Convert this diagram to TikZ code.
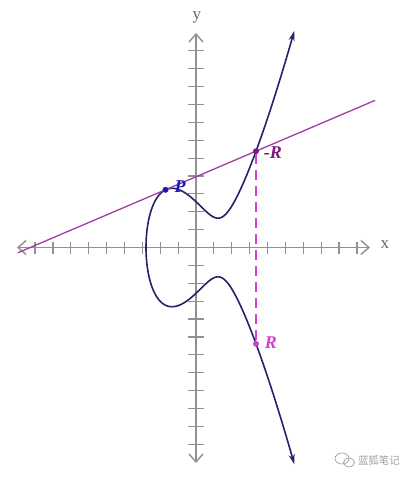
\documentclass[tikz,border=0pt]{standalone}
\usepackage{fontspec}
\setmainfont{Liberation Serif}
\newfontfamily\cjkfont{Noto Sans CJK SC}
\usetikzlibrary{arrows.meta}
\definecolor{axisgray}{RGB}{145,145,145}
\definecolor{labelgray}{RGB}{105,105,105}
\definecolor{curvenavy}{RGB}{35,35,105}
\definecolor{linepurple}{RGB}{160,60,165}
\definecolor{pblue}{RGB}{25,25,190}
\definecolor{mrpurple}{RGB}{125,25,125}
\definecolor{rmagenta}{RGB}{210,65,210}
\definecolor{wmgray}{RGB}{160,160,160}
\begin{document}
\begin{tikzpicture}[x=1pt,y=1pt,
  axisline/.style={draw=axisgray, line width=1.4pt, -{Straight Barb[length=8pt,width=14pt]}},
  tickmark/.style={draw=axisgray, line width=1.2pt},
  curveline/.style={draw=curvenavy, line width=1.6pt},
  secline/.style={draw=linepurple, line width=1.3pt},
  dashline/.style={draw=rmagenta, line width=1.6pt, dash pattern=on 10pt off 6pt},
  dotnode/.style={circle, inner sep=0pt, minimum size=6pt},
  ptlabel/.style={font=\fontsize{18}{20}\selectfont\bfseries\itshape, inner sep=0pt},
  axlabel/.style={font=\fontsize{17}{19}\selectfont, text=labelgray, inner sep=0pt}
]
\useasboundingbox (-196,-232.5) rectangle (215,247.5);
\fill[white] (-196,-232.5) rectangle (215,247.5);

% axes
\coordinate (O) at (0,0);
\coordinate (XL) at (-179,0);
\coordinate (XR) at (174,0);
\coordinate (YT) at (0,214.5);
\coordinate (YB) at (0,-215.5);
\draw[axisline] (O) -- (XR);
\draw[axisline] (O) -- (XL);
\draw[axisline] (O) -- (YT);
\draw[axisline] (O) -- (YB);
\foreach \i in {-9,...,-1,1,2,...,9}
  \draw[tickmark] (\i*17.88,-6) -- (\i*17.88,6);
\foreach \j in {-11,...,-1,1,2,...,11}
  \draw[tickmark] (-8,\j*17.88) -- (8,\j*17.88);
\node[axlabel] (ylab) at (1,230.5) {y};
\node[axlabel] (xlab) at (189,2.5) {x};

% curve
\draw[curveline, {Stealth[length=10pt,width=6pt]}-{Stealth[length=10pt,width=6pt]}]
  plot[domain=-12.18:12.18, samples=241, smooth, variable=\t]
  ({-50+\t*\t}, {\t*sqrt(0.05448*(-50+\t*\t)*(-50+\t*\t) - 2.563*(-50+\t*\t) + 41.95)});

% line through P and -R
\coordinate (L1) at (-178,-5.2);
\coordinate (L2) at (179,147.1);
\draw[secline] (L1) -- (L2);

% points
\node[dotnode, fill=pblue] (P) at (-30.5,57.7) {};
\node[dotnode, fill=mrpurple] (mR) at (60,96.3) {};
\node[dotnode, fill=rmagenta] (R) at (60,-96.3) {};
\draw[dashline] (mR) -- (R);

\node[ptlabel, text=pblue] (Plab) at (-16,60.5) {P};
\node[ptlabel, text=mrpurple] (mRlab) at (77,95) {-R};
\node[ptlabel, text=rmagenta] (Rlab) at (75,-95.5) {R};

% watermark
\draw[wmgray, line width=0.7pt] (146,-211) ellipse (7 and 5.5);
\draw[wmgray, line width=0.7pt] (153,-215) ellipse (5.5 and 4.5);
\node[font=\cjkfont\fontsize{10.5}{12}\selectfont, text=wmgray, inner sep=0pt] (wm) at (183,-212.5) {蓝狐笔记};
\end{tikzpicture}
\end{document}
